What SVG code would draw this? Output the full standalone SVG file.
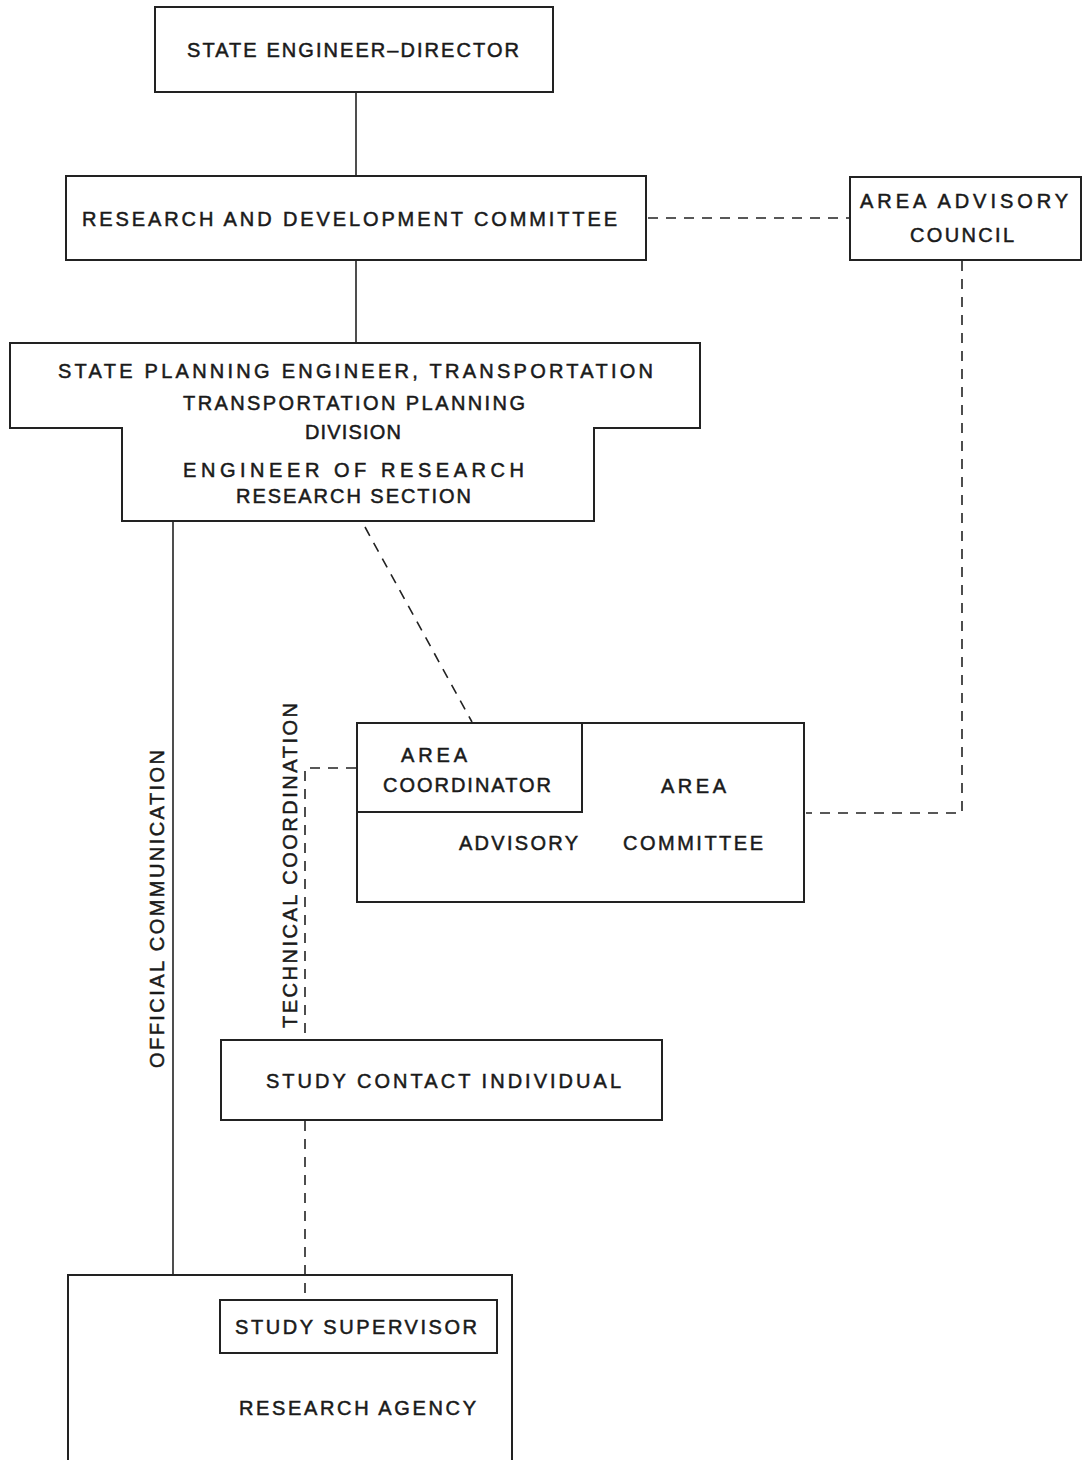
<svg xmlns="http://www.w3.org/2000/svg" width="1082" height="1460" viewBox="0 0 1082 1460">
<style>
.box{fill:none;stroke:#222;stroke-width:2}
.solid{fill:none;stroke:#222;stroke-width:1.6}
.dash{fill:none;stroke:#222;stroke-width:1.6;stroke-dasharray:10 8}
text{font-family:"Liberation Sans",Arial,sans-serif;font-size:20px;fill:#1a1a1a;stroke:#1a1a1a;stroke-width:0.5;text-anchor:start}
</style>
<rect width="1082" height="1460" fill="#fff"/>
<g id="connectors">
<line class="solid" x1="356" y1="92" x2="356" y2="176"/>
<line class="solid" x1="356" y1="260" x2="356" y2="343"/>
<line class="dash" x1="648" y1="218" x2="850" y2="218"/>
<polyline class="dash" points="962,261 962,813 806,813"/>
<line class="dash" x1="365" y1="527" x2="472" y2="722"/>
<line class="solid" x1="173" y1="521" x2="173" y2="1275"/>
<polyline class="dash" points="356,768 305,768 305,1040"/>
<line class="dash" x1="305" y1="1121" x2="305" y2="1300"/>
<text transform="translate(164,1068) rotate(-90)" textLength="318" lengthAdjust="spacing">OFFICIAL COMMUNICATION</text>
<text transform="translate(297,1028) rotate(-90)" textLength="325" lengthAdjust="spacing">TECHNICAL COORDINATION</text>
</g>
<g id="state-engineer-director">
<rect class="box" x="155" y="7" width="398" height="85"/>
<text x="187" y="57" textLength="332" lengthAdjust="spacing">STATE ENGINEER–DIRECTOR</text>
</g>
<g id="research-development-committee">
<rect class="box" x="66" y="176" width="580" height="84"/>
<text x="82" y="226" textLength="535" lengthAdjust="spacing">RESEARCH AND DEVELOPMENT COMMITTEE</text>
</g>
<g id="area-advisory-council">
<rect class="box" x="850" y="177" width="231" height="83"/>
<text x="860" y="208" textLength="208" lengthAdjust="spacing">AREA ADVISORY</text>
<text x="910" y="242" textLength="104" lengthAdjust="spacing">COUNCIL</text>
</g>
<g id="state-planning-engineer">
<path class="box" d="M10,343 H700 V428 H594 V521 H122 V428 H10 Z"/>
<text x="58" y="378" textLength="595" lengthAdjust="spacing">STATE PLANNING ENGINEER, TRANSPORTATION</text>
<text x="183" y="410" textLength="342" lengthAdjust="spacing">TRANSPORTATION PLANNING</text>
<text x="305" y="439" textLength="96" lengthAdjust="spacing">DIVISION</text>
<text x="183" y="477" textLength="341" lengthAdjust="spacing">ENGINEER OF RESEARCH</text>
<text x="236" y="503" textLength="235" lengthAdjust="spacing">RESEARCH SECTION</text>
</g>
<g id="area-advisory-committee">
<rect class="box" x="357" y="723" width="447" height="179"/>
<text x="661" y="793" textLength="65" lengthAdjust="spacing">AREA</text>
<text x="459" y="850" textLength="119" lengthAdjust="spacing">ADVISORY</text>
<text x="623" y="850" textLength="140" lengthAdjust="spacing">COMMITTEE</text>
</g>
<g id="area-coordinator">
<rect class="box" x="357" y="723" width="225" height="89"/>
<text x="401" y="762" textLength="66" lengthAdjust="spacing">AREA</text>
<text x="383" y="792" textLength="168" lengthAdjust="spacing">COORDINATOR</text>
</g>
<g id="study-contact-individual">
<rect class="box" x="221" y="1040" width="441" height="80"/>
<text x="266" y="1088" textLength="355" lengthAdjust="spacing">STUDY CONTACT INDIVIDUAL</text>
</g>
<g id="research-agency">
<path class="box" d="M68,1462 V1275 H512 V1462"/>
<text x="239" y="1415" textLength="237" lengthAdjust="spacing">RESEARCH AGENCY</text>
</g>
<g id="study-supervisor">
<rect class="box" x="220" y="1300" width="277" height="53"/>
<text x="235" y="1334" textLength="242" lengthAdjust="spacing">STUDY SUPERVISOR</text>
</g>
</svg>
